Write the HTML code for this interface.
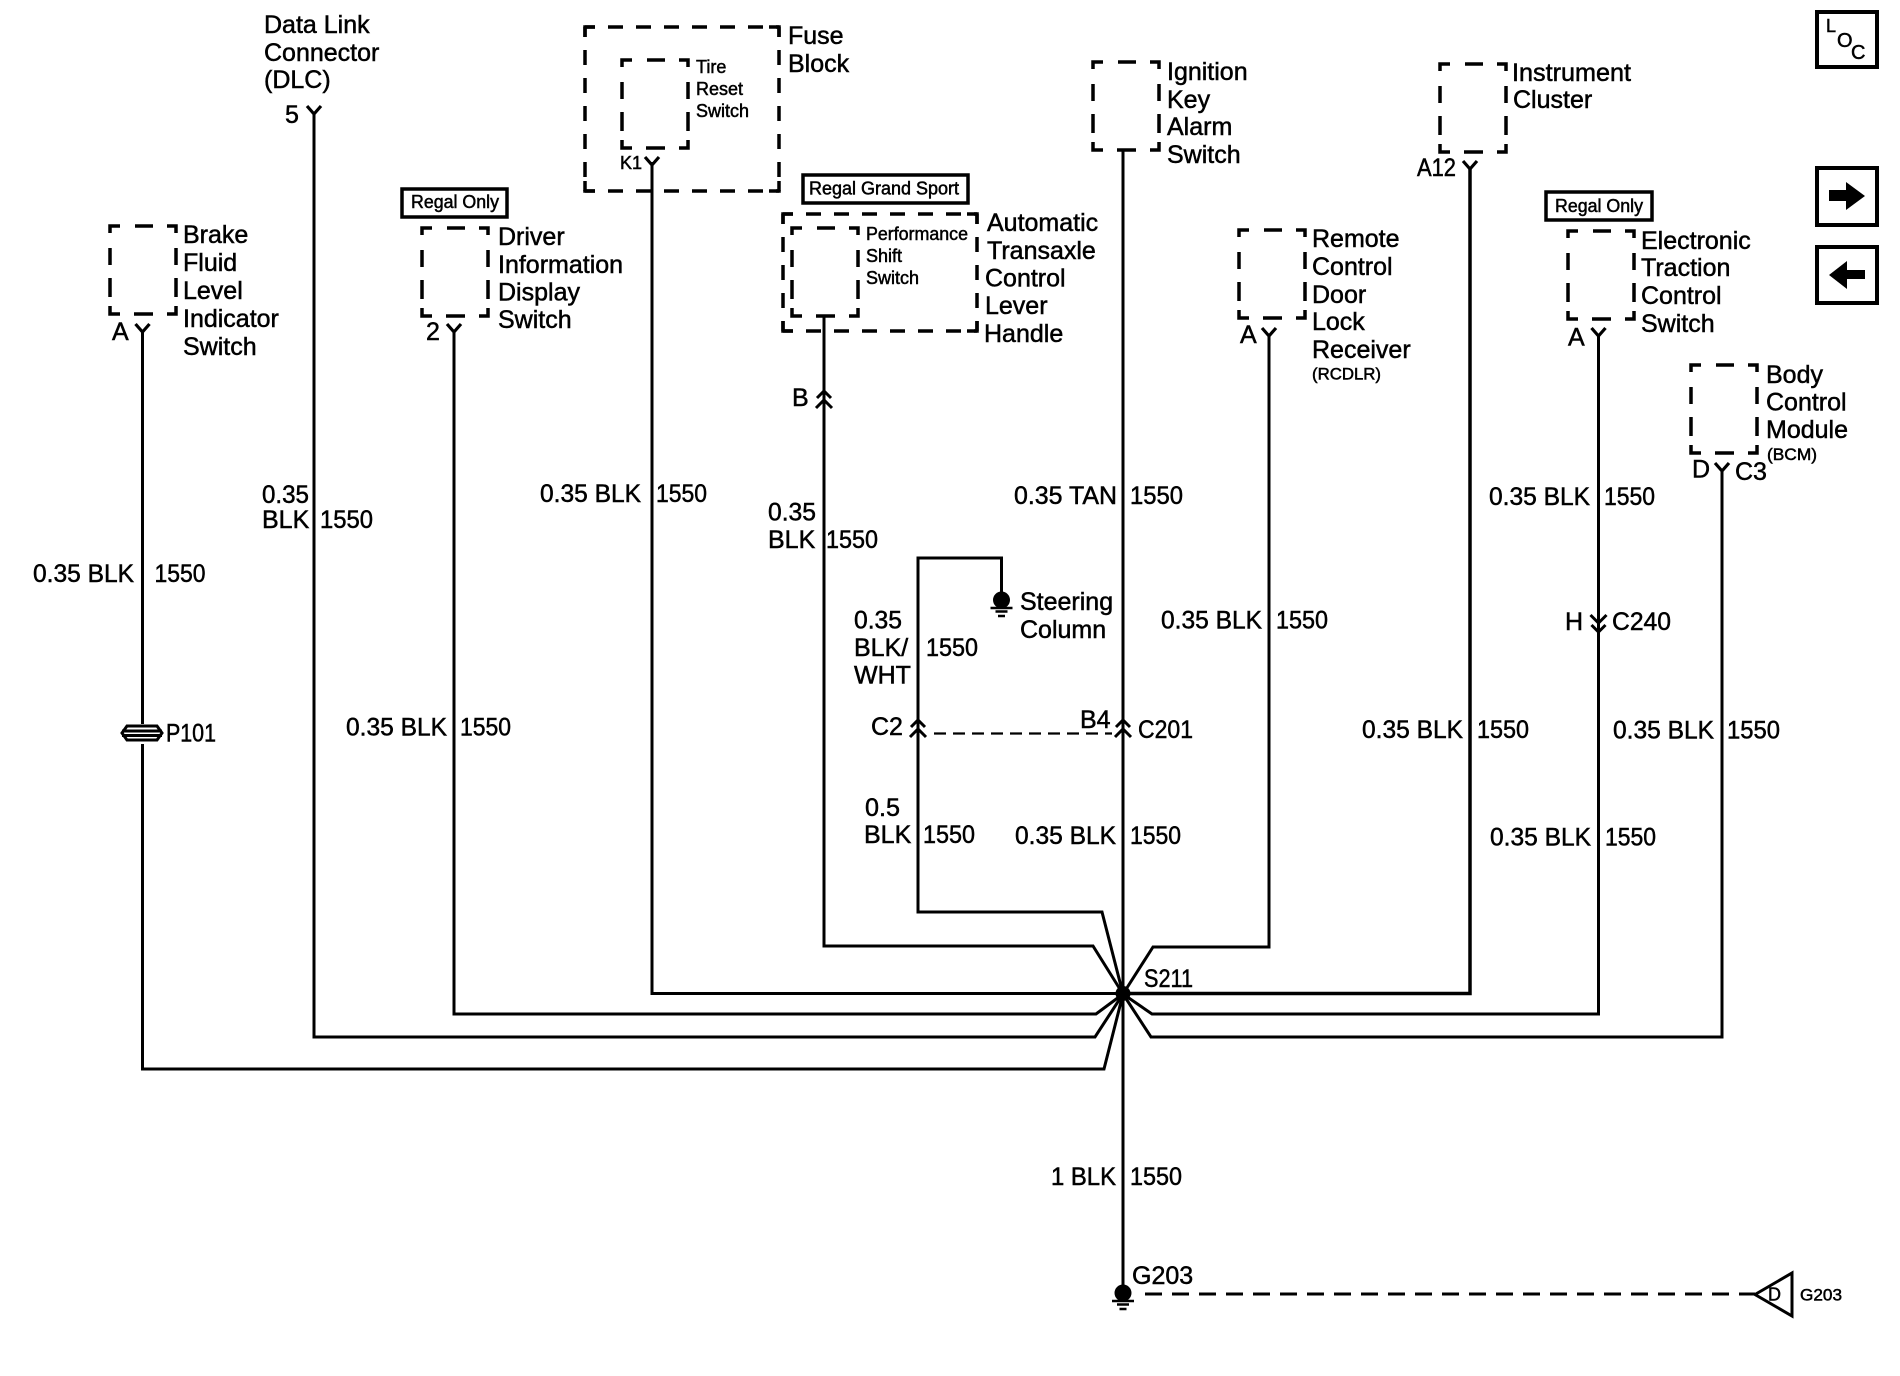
<!DOCTYPE html>
<html>
<head>
<meta charset="utf-8">
<style>
html,body{margin:0;padding:0;background:#fff;}
svg{display:block;}
text{font-family:"Liberation Sans",sans-serif;fill:#000;stroke:#000;stroke-width:.5;}
.t{font-size:25px;}
.s{font-size:18px;}
.x{font-size:16.5px;}
.w{fill:none;stroke:#000;stroke-width:3;stroke-linejoin:miter;}
.d{fill:none;stroke:#000;stroke-width:3.5;}
</style>
</head>
<body>
<svg width="1900" height="1376" viewBox="0 0 1900 1376" xmlns="http://www.w3.org/2000/svg">
<rect width="1900" height="1376" fill="#fff"/>
<defs>
<path id="b" class="d" d="M0 7V0H10M25 0H43M57 0H66V7M0 22V39M0 52V71M66 22V39M66 52V71M0 80V88H10M24 88H43M57 88H66V80"/>
<path id="y" class="w" style="stroke-width:3.2" d="M-7 0L0 8L7 0"/>
<path id="c" class="w" d="M-7 7L0 0L7 7M-8 17L0 9L8 17"/>
<g id="g">
<circle cx="0" cy="0" r="8.500" fill="#000"/>
<path class="w" style="stroke-width:2.600" d="M-11 8H11M-6 11.500H6M-3.500 16H3.500"/>
</g>
</defs>

<!-- wires -->
<path class="w" d="M142.500 330V1069H1104L1123 994"/>
<path class="w" d="M314 112V1037H1095L1123 994"/>
<path class="w" d="M454 330V1014H1096L1123 994"/>
<path class="w" d="M652 162V993.500H1123"/>
<path class="w" d="M824 316V946H1093L1123 994"/>
<path class="w" d="M918 733V912H1102L1123 994"/>
<path class="w" d="M918 733V558H1001.500V592"/>
<path class="w" d="M1123 150V1290"/>
<path class="w" d="M1269 335V947H1153L1123 994"/>
<path class="w" style="stroke-width:3.500" d="M1470 167V993.500H1123"/>
<path class="w" d="M1598.500 335V1014H1152L1123 994"/>
<path class="w" d="M1722 470V1037H1151L1123 994"/>
<circle cx="1123" cy="993.500" r="7.500" fill="#000"/>

<!-- dashed links -->
<path class="w" stroke-dasharray="12 7" style="stroke-width:2.200" d="M934 733.500H1112"/>
<path class="w" stroke-dasharray="17 10" d="M1145 1294H1755"/>
<path class="w" d="M1755 1294.500L1792 1273V1316Z"/>

<!-- small dashed boxes -->
<use href="#b" x="110" y="226"/>
<use href="#b" x="622" y="60"/>
<use href="#b" x="422" y="228"/>
<use href="#b" x="792" y="228"/>
<use href="#b" x="1093" y="62"/>
<use href="#b" x="1440" y="64"/>
<use href="#b" x="1239" y="230"/>
<use href="#b" x="1568" y="231"/>
<use href="#b" x="1691" y="365"/>

<!-- outer dashed boxes -->
<g stroke-dasharray="15 13" stroke-dashoffset="5">
<path class="d" d="M585 27H779"/><path class="d" d="M585 191H779"/><path class="d" d="M585 27V191"/><path class="d" d="M779 27V191"/>
<path class="d" d="M783 214H977"/><path class="d" d="M783 331H977"/><path class="d" d="M783 214V331"/><path class="d" d="M977 214V331"/>
</g>
<path class="d" d="M585 37V27H595M769 27H779V37M585 181V191H595M769 191H779V181"/>
<path class="d" d="M783 224V214H793M967 214H977V224M783 321V331H793M967 331H977V321"/>

<!-- note boxes -->
<rect x="402" y="189" width="105" height="28" fill="#fff" stroke="#000" stroke-width="3.500"/>
<rect x="803" y="175" width="165" height="28" fill="#fff" stroke="#000" stroke-width="3.500"/>
<rect x="1546" y="192" width="106" height="28" fill="#fff" stroke="#000" stroke-width="3.500"/>
<text class="s" x="411" y="208" textLength="88" lengthAdjust="spacingAndGlyphs">Regal Only</text>
<text class="s" x="809" y="194.500" textLength="150" lengthAdjust="spacingAndGlyphs">Regal Grand Sport</text>
<text class="s" x="1555" y="212" textLength="88" lengthAdjust="spacingAndGlyphs">Regal Only</text>

<!-- connector Y marks -->
<use href="#y" x="142.500" y="324"/>
<use href="#y" x="314" y="106"/>
<use href="#y" x="454" y="324"/>
<use href="#y" x="652" y="157"/>
<use href="#y" x="1269" y="328"/>
<use href="#y" x="1470" y="161"/>
<use href="#y" x="1598.500" y="328"/>
<use href="#y" x="1722" y="463"/>

<!-- chevrons -->
<use href="#c" x="824" y="391"/>
<use href="#c" x="918" y="720"/>
<use href="#c" x="1123" y="720"/>
<use href="#c" transform="translate(1598.500 632) scale(1 -1)"/>

<!-- P101 -->
<rect x="120" y="724" width="44" height="20" fill="#fff"/>
<path class="w" d="M127 726H157L162 733L157 740H127L122 733ZM122 731H162M122 735.500H162"/>

<!-- grounds -->
<use href="#g" x="1001.500" y="600"/>
<use href="#g" x="1123" y="1293"/>

<!-- side buttons -->
<rect x="1817" y="12" width="60" height="55" fill="#fff" stroke="#000" stroke-width="4"/>
<text x="1826" y="32" style="font-size:18px">L</text>
<text x="1837" y="47" style="font-size:20px">O</text>
<text x="1851" y="59" style="font-size:20px">C</text>
<rect x="1817" y="168" width="60" height="57" fill="#fff" stroke="#000" stroke-width="4"/>
<path fill="#000" d="M1829 190H1846V182L1865 196L1846 210V201H1829Z"/>
<rect x="1817" y="247" width="60" height="56" fill="#fff" stroke="#000" stroke-width="4"/>
<path fill="#000" d="M1865 270H1847V261L1829 275L1847 289V279H1865Z"/>

<!-- component labels -->
<g class="t">
<text x="264" y="33">Data Link</text>
<text x="264" y="61">Connector</text>
<text x="264" y="88">(DLC)</text>
<text x="285" y="123">5</text>
<text x="788" y="44">Fuse</text>
<text x="788" y="72">Block</text>
<text x="183" y="243">Brake</text>
<text x="183" y="271">Fluid</text>
<text x="183" y="299">Level</text>
<text x="183" y="327">Indicator</text>
<text x="183" y="355">Switch</text>
<text x="112" y="340">A</text>
<text x="498" y="245">Driver</text>
<text x="498" y="273">Information</text>
<text x="498" y="300.500">Display</text>
<text x="498" y="328">Switch</text>
<text x="426" y="340">2</text>
<text x="987" y="231">Automatic</text>
<text x="987" y="259">Transaxle</text>
<text x="985" y="286.500">Control</text>
<text x="985" y="314">Lever</text>
<text x="984" y="342">Handle</text>
<text x="1167" y="80">Ignition</text>
<text x="1167" y="108">Key</text>
<text x="1167" y="135">Alarm</text>
<text x="1167" y="163">Switch</text>
<text x="1512" y="81" textLength="119" lengthAdjust="spacingAndGlyphs">Instrument</text>
<text x="1513" y="108">Cluster</text>
<text x="1417" y="176" textLength="39" lengthAdjust="spacingAndGlyphs">A12</text>
<text x="1312" y="247">Remote</text>
<text x="1312" y="275">Control</text>
<text x="1312" y="303">Door</text>
<text x="1312" y="330">Lock</text>
<text x="1312" y="358">Receiver</text>
<text x="1240" y="343">A</text>
<text x="1641" y="249">Electronic</text>
<text x="1641" y="276">Traction</text>
<text x="1641" y="304">Control</text>
<text x="1641" y="332">Switch</text>
<text x="1568" y="345.500">A</text>
<text x="1766" y="383">Body</text>
<text x="1766" y="410.500">Control</text>
<text x="1766" y="438">Module</text>
<text x="1692" y="477.500">D</text>
<text x="1735" y="480">C3</text>
<text x="792" y="406">B</text>
<text x="1020" y="610">Steering</text>
<text x="1020" y="638">Column</text>
<text x="1565" y="630">H</text>
<text x="1612" y="630" textLength="59" lengthAdjust="spacingAndGlyphs">C240</text>
<text x="166" y="741.500" textLength="50" lengthAdjust="spacingAndGlyphs">P101</text>
<text x="871" y="735">C2</text>
<text x="1080" y="728">B4</text>
<text x="1138" y="738" textLength="55" lengthAdjust="spacingAndGlyphs">C201</text>
<text x="1144" y="987" textLength="49" lengthAdjust="spacingAndGlyphs">S211</text>
<text x="1132" y="1284">G203</text>

<!-- wire labels -->
<text x="33" y="582" textLength="101" lengthAdjust="spacingAndGlyphs">0.35 BLK</text>
<text x="154.500" y="582" textLength="51" lengthAdjust="spacingAndGlyphs">1550</text>
<text x="262" y="503" textLength="47" lengthAdjust="spacingAndGlyphs">0.35</text>
<text x="262" y="528">BLK</text>
<text x="320" y="528" textLength="53" lengthAdjust="spacingAndGlyphs">1550</text>
<text x="540" y="502" textLength="101" lengthAdjust="spacingAndGlyphs">0.35 BLK</text>
<text x="656" y="502" textLength="51" lengthAdjust="spacingAndGlyphs">1550</text>
<text x="768" y="520.500" textLength="48" lengthAdjust="spacingAndGlyphs">0.35</text>
<text x="768" y="548">BLK</text>
<text x="826" y="548" textLength="52" lengthAdjust="spacingAndGlyphs">1550</text>
<text x="854" y="628.500" textLength="48" lengthAdjust="spacingAndGlyphs">0.35</text>
<text x="854" y="656">BLK/</text>
<text x="854" y="683.500">WHT</text>
<text x="926" y="656" textLength="52" lengthAdjust="spacingAndGlyphs">1550</text>
<text x="1014" y="504" textLength="103" lengthAdjust="spacingAndGlyphs">0.35 TAN</text>
<text x="1130" y="504" textLength="53" lengthAdjust="spacingAndGlyphs">1550</text>
<text x="1161" y="628.500" textLength="101" lengthAdjust="spacingAndGlyphs">0.35 BLK</text>
<text x="1276" y="628.500" textLength="52" lengthAdjust="spacingAndGlyphs">1550</text>
<text x="1489" y="505" textLength="101" lengthAdjust="spacingAndGlyphs">0.35 BLK</text>
<text x="1604" y="505" textLength="51" lengthAdjust="spacingAndGlyphs">1550</text>
<text x="346" y="735.500" textLength="101" lengthAdjust="spacingAndGlyphs">0.35 BLK</text>
<text x="460" y="735.500" textLength="51" lengthAdjust="spacingAndGlyphs">1550</text>
<text x="865" y="816" textLength="35" lengthAdjust="spacingAndGlyphs">0.5</text>
<text x="864" y="843">BLK</text>
<text x="923" y="843" textLength="52" lengthAdjust="spacingAndGlyphs">1550</text>
<text x="1015" y="844" textLength="101" lengthAdjust="spacingAndGlyphs">0.35 BLK</text>
<text x="1130" y="844" textLength="51" lengthAdjust="spacingAndGlyphs">1550</text>
<text x="1362" y="738" textLength="101" lengthAdjust="spacingAndGlyphs">0.35 BLK</text>
<text x="1477" y="738" textLength="52" lengthAdjust="spacingAndGlyphs">1550</text>
<text x="1613" y="738.500" textLength="101" lengthAdjust="spacingAndGlyphs">0.35 BLK</text>
<text x="1727" y="738.500" textLength="53" lengthAdjust="spacingAndGlyphs">1550</text>
<text x="1490" y="845.500" textLength="101" lengthAdjust="spacingAndGlyphs">0.35 BLK</text>
<text x="1605" y="845.500" textLength="51" lengthAdjust="spacingAndGlyphs">1550</text>
<text x="1051" y="1185" textLength="65" lengthAdjust="spacingAndGlyphs">1 BLK</text>
<text x="1130" y="1185" textLength="52" lengthAdjust="spacingAndGlyphs">1550</text>
</g>

<!-- small labels -->
<g class="s">
<text x="696" y="73">Tire</text>
<text x="696" y="95">Reset</text>
<text x="696" y="117">Switch</text>
<text x="620" y="169">K1</text>
<text x="866" y="240" textLength="102" lengthAdjust="spacingAndGlyphs">Performance</text>
<text x="866" y="262">Shift</text>
<text x="866" y="284">Switch</text>
<text x="1768" y="1300.500">D</text>
<text x="1800" y="1300.500" style="font-size:17px" textLength="42" lengthAdjust="spacingAndGlyphs">G203</text>
</g>
<g class="x">
<text x="1312" y="379.500" textLength="69" lengthAdjust="spacingAndGlyphs">(RCDLR)</text>
<text x="1767" y="460" textLength="50" lengthAdjust="spacingAndGlyphs">(BCM)</text>
</g>
</svg>
</body>
</html>
